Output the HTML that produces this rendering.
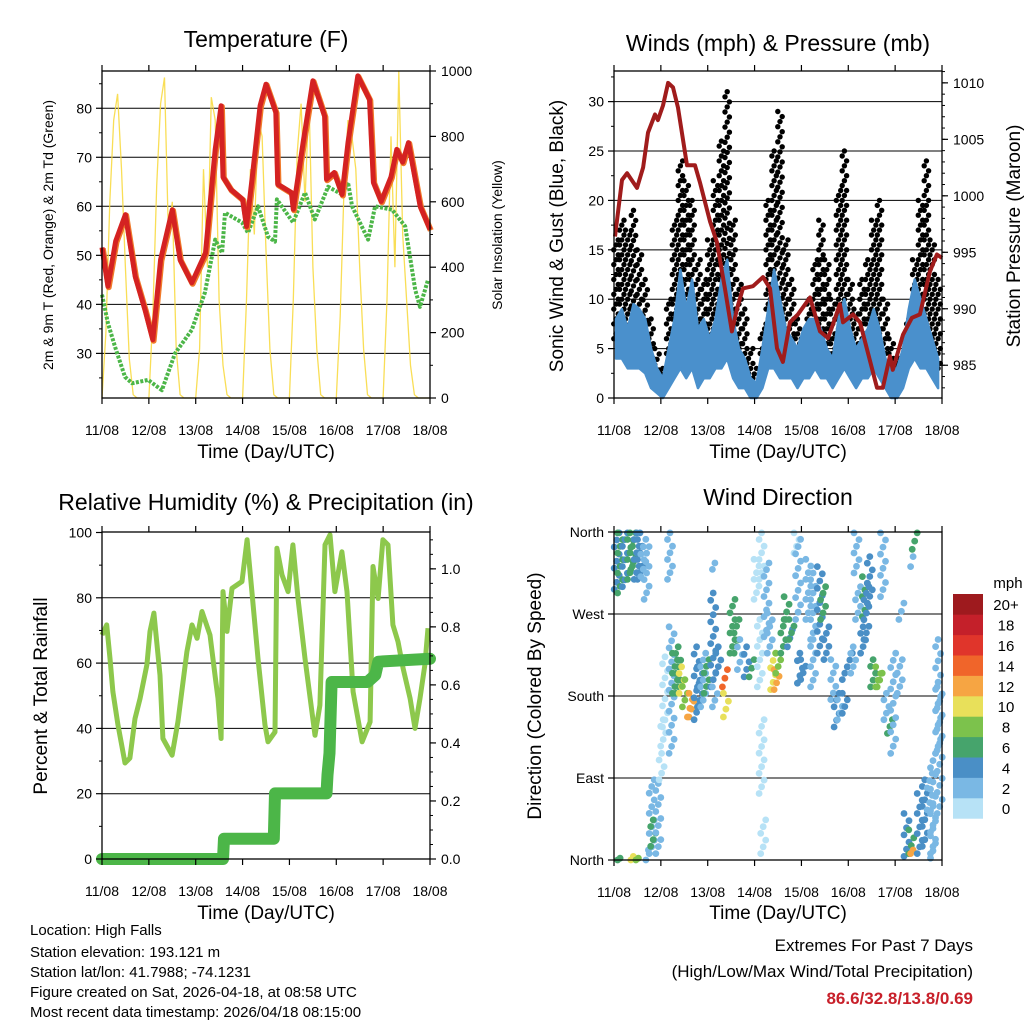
<!DOCTYPE html>
<html><head><meta charset="utf-8"><style>
html,body{margin:0;padding:0;background:#fff;}
svg{display:block;font-family:"Liberation Sans",sans-serif;}
</style></head><body>
<svg id="s" width="1024" height="1024" viewBox="0 0 1024 1024"></svg>
<script>
// ---------- DATA ----------
const dayLabels = ["11/08","12/08","13/08","14/08","15/08","16/08","17/08","18/08"];
// Temperature (F)
const tHours = [0,3,7,12,17,22,26,30,36,40,46,53,58,61,62,66,72,74,77,81,84,89,90,97,98,103,108,114,115,119,123,126,131,137,139,143,148,151,154,157,163,168];
const tVals  = [51.6,43.7,52.9,58.3,45.7,38.9,32.8,49.1,59.3,49.1,44.4,50.5,71.6,80.5,66,63.4,61.4,55.9,66,80.5,84.9,79.2,64.5,62.8,59.4,73,85.6,78.4,65.5,66.9,62.4,73,86.6,81.8,64.9,61,66,71.6,69,73,60,55.3];
const tdHours = [0,3,6.7,11.8,15.4,23.6,30.7,37.4,46,52.7,58,61.5,63,71.7,74.8,79.9,85,88.6,89.6,97.9,104,109,115.8,123,126,128.1,136.3,139.9,148.6,155.3,160.4,162.9,167];
const tdVals  = [42,36.2,31.3,25.2,23.9,24.6,22.5,30,34.8,42.4,53.2,50.5,58.7,56.7,54.6,60,53.8,52.8,61.4,56.7,62.8,57.3,64,62.4,64.9,60,53.2,60,59.3,55.9,43,39.5,45];
// Solar insolation, every 2 hours
const solarVals = [0,200,600,850,930,700,400,120,10,0,0,0,
 0,250,650,900,980,500,600,150,10,0,0,0,
 0,150,700,400,920,850,300,100,10,0,0,0,
 0,300,700,500,850,800,450,150,10,0,0,0,
 0,300,750,900,600,920,400,150,10,0,0,0,
 0,250,650,850,800,700,400,150,10,0,0,0,
 0,300,800,400,1000,500,300,100,10,0,0,0,0];
// Winds, every 3 hours
const windHi = [8,9,7,9.5,9,8,5,3,2,5,8,13,9,12,7,8,6,8,12,14,8,5,4,2,1.5,5,9,13,10,7,6,5,7,8,8,7,5,4,8,10,7,5,6,7,9,7,4,3,3,5,9,12,10,8,6,4];
const windLo = [4,4,3,3,3,2.5,1,0.5,0,1,2,3,2,3,1,2,2,3,3,4,2,1,1,0,0,1,3,3,2,2,2,1,2,2,3,2,2,1,2,3,2,1,2,2,3,2,1,0,0,1,3,4,3,3,2,1];
const gust   = [16,18,17,19,15,12,8,5,3,10,18,24,22,20,14,12,16,22,26,31,18,12,9,5,3,7,20,25,29,16,12,8,6,10,14,18,14,10,21,25,12,9,12,14,18,20,10,6,4,4,8,14,20,24,16,12];
const presHours = [0.5,4.1,6.7,11.8,14.9,17.4,21,22.5,25.1,27.7,30.2,32.8,37.4,41.5,44,49.2,52.7,56.8,60.4,63,66,71.2,76.3,79.9,83.5,86.5,90.1,94.2,100.4,105.5,109.6,112.1,115.7,117.3,122.4,126,134.7,137.7,141.3,142.8,148,152.6,156.7,161.8,165.4,168];
const presVals  = [996.4,1001.4,1002,1000.7,1002.5,1005.6,1007.2,1006.7,1008,1010,1009.6,1007.8,1002.7,1002.7,1001.2,997.7,995.9,991.8,988,990,991.8,992,992.8,991.8,986.5,985.3,988.8,989.5,991,988,987.4,988.6,990.4,988.8,989.5,988.8,983,983,985.8,984.6,987.7,989.2,989.5,993.3,994.8,994.5];
// RH & precipitation
const rhHours = [0,2.4,4.1,5.6,8.2,11.8,14.3,16.9,19.5,23,24.6,26.6,29.7,31.2,35.9,38.9,43.5,46.1,48.7,51.2,55.3,57.9,59.4,61,62,64,66.6,71.7,74.3,76.8,79.9,83.5,85,88.6,89.6,92.2,95.3,97.8,100.4,104,109.1,111.6,114.2,116.8,119.3,122.9,125.5,128.6,133.2,137.3,138.8,141.4,143.9,146.5,149,151.6,154.2,157.8,160.3,162.9,165.4,167];
const rhVals  = [68.6,71.7,61.4,51.2,41,29.4,30.9,43,49.2,59.5,69.7,75.3,56.3,36.9,31.8,42,63.5,71.7,67.6,75.8,68.6,56.3,49.2,36.9,81.9,69.7,82.9,85,97.8,81.9,61.4,41,35.9,38.9,95.2,87,81.9,96.2,79.8,61.4,37.9,47.1,96.2,99.3,81.9,94.1,81.9,51.2,35.9,42,89.6,79.8,97.8,96.2,71.7,66.6,58.4,49.2,40,49.2,59.5,70.7];
const prHours = [0,62,62.5,88,88.6,115,115.5,116.5,117.6,136,140,141.5,168];
const prVals  = [0,0,0.07,0.07,0.226,0.226,0.29,0.365,0.61,0.61,0.634,0.68,0.69];
// Wind direction observation runs (hour, direction range, speed mph)
const wdHour = [1.4,3.1,5.6,8.2,9.9,11.6,13.3,15,16.7,3.1,9.9,12.5,17.6,19.3,20.1,22.7,24.4,25.2,26.1,28.7,29.5,31.2,32.9,34.6,36.3,38.9,39.7,42.3,44,45.7,47.4,50.8,51.7,51.7,53.4,56.8,57.3,60.7,62.8,64.5,67.9,70.5,73,74.7,75.6,75.6,76.4,78.1,79.8,81.5,83.3,84.1,86.7,88.4,90.1,90.9,93.5,94.3,95.2,96.9,99.5,102,102,105.4,107.1,108.8,112.3,114,115.7,118.2,118.2,120.8,122.5,124.2,125,127.6,128.5,129.3,131,132.7,135.3,136.1,137.8,139.5,141.3,143,146.4,147.2,149.8,152.3,153.2,154,153.2,156.6,159.2,161.7,163.4,166,166.8,163.4];
const wdLo = [297,293,300,308,319,308,308,311,286,0,0,0,0,7,15,7,88,125,146,308,117,183,183,183,168,157,157,154,168,168,183,190,319,168,205,190,157,227,227,209,201,201,286,190,308,73,7,245,227,187,187,205,227,264,234,242,337,264,194,198,264,242,190,227,264,220,176,146,154,161,198,212,205,315,264,227,267,242,282,190,190,190,289,154,139,117,183,264,4,7,7,341,322,7,15,55,7,117,51,2];
const wdHi = [359,359,359,359,359,359,359,352,344,2,4,2,11,88,44,84,117,154,223,359,256,227,234,212,198,176,183,234,212,227,220,293,326,190,234,209,183,286,264,242,234,220,330,264,359,154,44,326,271,227,209,227,264,289,253,264,359,352,227,220,330,315,242,322,300,256,220,183,176,183,212,227,234,359,300,256,311,300,333,220,212,205,359,183,154,227,220,282,51,33,11,359,333,73,88,95,117,242,190,59];
const wdSpeed = [5,6,4,7,6,5,4,3,2,6,10,8,2,3,6,2,1,1,1,2,2,6,7,10,8,13,12,4,4,3,6,4,2,2,5,14,10,6,6,3,4,6,1,1,1,1,1,3,3,11,13,9,7,6,4,6,1,3,4,5,2,3,3,4,6,4,2,4,3,4,5,4,3,2,3,5,6,4,4,6,8,8,3,2,6,3,3,2,4,7,12,6,3,4,4,3,2,2,3,2];
const speedColors = ["#b7e2f6","#7ab8e4","#4a8fc6","#46a46c","#7cc24c","#e8e05a","#f6a543","#f0652a","#e0352b","#c4202a","#9e1a1e"];
const speedLabels = ["0","2","4","6","8","10","12","14","16","18","20+"];

// ---------- HELPERS ----------
const NS="http://www.w3.org/2000/svg";
const svg=document.getElementById('s');
function mk(tag,attrs,parent){const e=document.createElementNS(NS,tag);for(const k in attrs)e.setAttribute(k,attrs[k]);(parent||svg).appendChild(e);return e;}
function txt(str,x,y,size,anchor,parent,extra){const t=mk('text',Object.assign({x:x,y:y,'font-size':size,'text-anchor':anchor||'middle',fill:'#000'},extra||{}),parent);t.textContent=str;return t;}
function lin(d0,d1,p0,p1){return v=>p0+(v-d0)/(d1-d0)*(p1-p0);}
function pathFrom(xs,ys,fx,fy){return xs.map((h,i)=>(i?'L':'M')+fx(h).toFixed(1)+' '+fy(ys[i]).toFixed(1)).join(' ');}

function frame(g,P,leftTicks,leftFmt,rightTicks,rightFmt,fyL,fyR,name){
  leftTicks.forEach(v=>{const y=fyL(v);if(y>P.y0+1&&y<P.y1-1){const l=mk('line',{x1:P.x0,x2:P.x1,y1:y,y2:y,stroke:'#000','stroke-width':1},g);
  
  }});
}
function axes(g,P,leftTicks,leftFmt,rightTicks,rightFmt,fyL,fyR,minorL,minorR){
  const fx=lin(0,168,P.x0,P.x1);
  mk('rect',{x:P.x0,y:P.y0,width:P.x1-P.x0,height:P.y1-P.y0,fill:'none',stroke:'#000','stroke-width':1.3},g);
  for(let d=0;d<=7;d++){const x=fx(d*24);
    mk('line',{x1:x,x2:x,y1:P.y1,y2:P.y1+6,stroke:'#000','stroke-width':1.2},g);
    mk('line',{x1:x,x2:x,y1:P.y0,y2:P.y0-6,stroke:'#000','stroke-width':1.2},g);
    const t=txt(dayLabels[d],x,P.y1+37,14,'middle',g);
    
    }
  leftTicks.forEach(v=>{const y=fyL(v);mk('line',{x1:P.x0-6,x2:P.x0,y1:y,y2:y,stroke:'#000','stroke-width':1.2},g);
    const t=txt(leftFmt(v),P.x0-10,y+5,14,'end',g);
    
    });
  (minorL||[]).forEach(v=>{const y=fyL(v);mk('line',{x1:P.x0-3,x2:P.x0,y1:y,y2:y,stroke:'#000','stroke-width':1},g);});
  if(rightTicks){rightTicks.forEach(v=>{const y=fyR(v);mk('line',{x1:P.x1,x2:P.x1+6,y1:y,y2:y,stroke:'#000','stroke-width':1.2},g);
    const t=txt(rightFmt(v),P.x1+11,y+5,14,'start',g);
    
    });
    (minorR||[]).forEach(v=>{const y=fyR(v);mk('line',{x1:P.x1,x2:P.x1+3,y1:y,y2:y,stroke:'#000','stroke-width':1},g);});}
  return fx;
}
function range(a,b,s){const r=[];for(let v=a;v<=b+1e-9;v+=s)r.push(+v.toFixed(4));return r;}

// ---------- PANEL 1: TEMPERATURE ----------
(function(){
  const P={x0:102,x1:430,y0:71,y1:398};
  const g=mk('g',{});
  
  
  const fyL=lin(20.9,87.6,P.y1,P.y0), fyR=lin(0,1000,P.y1,P.y0), fx=lin(0,168,P.x0,P.x1);
  frame(g,P,range(30,80,10),null,null,null,fyL);
  const sh=solarVals.map((v,i)=>i*2);
  const sp=mk('path',{d:pathFrom(sh,solarVals,fx,fyR),fill:'none',stroke:'#f8d838','stroke-width':1.3,opacity:0.85},g);
  
  
  const td=mk('path',{d:pathFrom(tdHours,tdVals,fx,fyL),fill:'none',stroke:'#4cb648','stroke-width':4,'stroke-dasharray':'3 1.5','stroke-linejoin':'round'},g);
  
  
  const t9=mk('path',{d:pathFrom(tHours,tVals,fx,fyL),fill:'none',stroke:'#f07a2a','stroke-width':6,'stroke-linejoin':'round',transform:'translate(0.8,1)'},g);
  
  
  const t2=mk('path',{d:pathFrom(tHours,tVals,fx,fyL),fill:'none',stroke:'#d42222','stroke-width':5,'stroke-linejoin':'round'},g);
  
  
  axes(g,P,range(30,80,10),v=>String(v),range(0,1000,200),v=>String(v),fyL,fyR,range(25,85,10),range(100,900,200));
  let t=txt('Temperature (F)',266,47,23,'middle',g);
  
  
  t=txt('Time (Day/UTC)',266,458,19,'middle',g);
  
  
  t=txt('2m & 9m T (Red, Orange) & 2m Td (Green)',0,0,14,'middle',g,{transform:'translate(53,235) rotate(-90)'});
  
  
  t=txt('Solar Insolation (Yellow)',0,0,14,'middle',g,{transform:'translate(502,235) rotate(-90)'});
  
  
})();

// ---------- PANEL 2: WINDS & PRESSURE ----------
(function(){
  const P={x0:614,x1:942,y0:71,y1:398};
  const g=mk('g',{});
  
  
  const fyL=lin(0,33.1,P.y1,P.y0), fyR=lin(982.1,1011.05,P.y1,P.y0), fx=lin(0,168,P.x0,P.x1);
  frame(g,P,range(0,30,5),null,null,null,fyL);
  const wh=windHi.map((v,i)=>i*3+1);
  gust.forEach((v,i)=>{
    const yA=fyL(windLo[i]+ (windHi[i]-windLo[i])*0.5), yB=fyL(v);
    const n=Math.max(1,Math.round((yA-yB)/5));
    for(let k=0;k<=n;k++){
      const off=((k%3)-1)*2.2;
      const c=mk('circle',{cx:(fx(wh[i])+off).toFixed(1),cy:(yA+(yB-yA)*k/n).toFixed(1),r:2.7,fill:'#000'},g);
      
      
    }});
  let d=wh.map((h,i)=>(i?'L':'M')+fx(h).toFixed(1)+' '+fyL(windHi[i]).toFixed(1)).join(' ');
  for(let i=wh.length-1;i>=0;i--)d+=' L'+fx(wh[i]).toFixed(1)+' '+fyL(windLo[i]).toFixed(1);
  const bw=mk('path',{d:d+' Z',fill:'#4a90cc',stroke:'#4a90cc','stroke-width':2.5,'stroke-linejoin':'round'},g);
  
  
  const pp=mk('path',{d:pathFrom(presHours,presVals,fx,fyR),fill:'none',stroke:'#a01c1c','stroke-width':4,'stroke-linejoin':'round'},g);
  
  
  axes(g,P,range(0,30,5),v=>String(v),range(985,1010,5),v=>String(v),fyL,fyR,range(2.5,32.5,5),range(983,1011,1));
  let t=txt('Winds (mph) & Pressure (mb)',778,51,23,'middle',g);
  
  
  t=txt('Time (Day/UTC)',778,458,19,'middle',g);
  
  
  t=txt('Sonic Wind & Gust (Blue, Black)',0,0,19,'middle',g,{transform:'translate(563,236) rotate(-90)'});
  
  
  t=txt('Station Pressure (Maroon)',0,0,19,'middle',g,{transform:'translate(1020,236) rotate(-90)'});
  
  
})();

// ---------- PANEL 3: RH & PRECIP ----------
(function(){
  const P={x0:102,x1:430,y0:532,y1:859};
  const g=mk('g',{});
  
  
  const fyL=lin(0,100,P.y1,P.y0+0.5), fyR=lin(0,1.127,P.y1,P.y0), fx=lin(0,168,P.x0,P.x1);
  frame(g,P,range(0,100,20),null,null,null,fyL);
  const rh=mk('path',{d:pathFrom(rhHours,rhVals,fx,fyL),fill:'none',stroke:'#8dc84c','stroke-width':5,'stroke-linejoin':'round'},g);
  
  
  const pr=mk('path',{d:pathFrom(prHours,prVals,fx,fyR),fill:'none',stroke:'#4cb648','stroke-width':12,'stroke-linecap':'round','stroke-linejoin':'round'},g);
  
  
  axes(g,P,range(0,100,20),v=>String(v),range(0,1.0,0.2),v=>v.toFixed(1),fyL,fyR,range(10,90,20),range(0.05,1.1,0.05));
  let t=txt('Relative Humidity (%) & Precipitation (in)',266,510,23,'middle',g);
  
  
  t=txt('Time (Day/UTC)',266,919,19,'middle',g);
  
  
  t=txt('Percent & Total Rainfall',0,0,19,'middle',g,{transform:'translate(47,696) rotate(-90)'});
  
  
})();

// ---------- PANEL 4: WIND DIRECTION ----------
(function(){
  const P={x0:614,x1:942,y0:532,y1:860};
  const g=mk('g',{});
  
  
  const fyL=lin(0,360,P.y1,P.y0), fx=lin(0,168,P.x0,P.x1);
  frame(g,P,[0,90,180,270,360],null,null,null,fyL);
  wdHour.forEach((h,i)=>{
    const col=speedColors[Math.min(10,Math.floor(wdSpeed[i]/2))];
    const y1=fyL(wdLo[i]), y2=fyL(wdHi[i]);
    const n=Math.max(1,Math.round((y1-y2)/7));
    for(let k=0;k<=n;k++){
      const off=((k%3)-1)*2.5;
      const c=mk('circle',{cx:(fx(h)+off).toFixed(1),cy:(y1+(y2-y1)*k/n).toFixed(1),r:3.4,fill:col},g);
      
      
    }
  });
  const names=['North','East','South','West','North'];
  axes(g,P,[0,90,180,270,360],v=>names[v/90],null,null,fyL,null,[]);
  let t=txt('Wind Direction',778,505,23,'middle',g);
  
  
  t=txt('Time (Day/UTC)',778,919,19,'middle',g);
  
  
  t=txt('Direction (Colored By Speed)',0,0,19,'middle',g,{transform:'translate(541,696) rotate(-90)'});
  
  
  const cb=mk('g',{},g);
  
  
  const top=594, bh=20.4;
  speedColors.forEach((c,i)=>{const y=top+(10-i)*bh;
    const r=mk('rect',{x:953,y:y,width:30,height:bh+0.3,fill:c},cb);
    
    
    const l=txt(speedLabels[i],1006,y+bh/2+6,15,'middle',cb);
    
    });
  t=txt('mph',1008,588,15,'middle',cb);
  
  
})();

// ---------- FOOTER ----------
(function(){
  const lines=['Location: High Falls','Station elevation: 193.121 m','Station lat/lon: 41.7988; -74.1231','Figure created on Sat, 2026-04-18, at 08:58 UTC','Most recent data timestamp: 2026/04/18 08:15:00'];
  const ys=[935,957,977,997,1017];
  lines.forEach((s,i)=>{const t=txt(s,30,ys[i],15,'start');
    
    });
  let t=txt('Extremes For Past 7 Days',973,951,17,'end');
  
  
  t=txt('(High/Low/Max Wind/Total Precipitation)',973,977,17,'end');
  
  
  t=txt('86.6/32.8/13.8/0.69',973,1004,17,'end',null,{fill:'#c8202a','font-weight':'bold'});
  
  
})();
</script>
</body></html>
